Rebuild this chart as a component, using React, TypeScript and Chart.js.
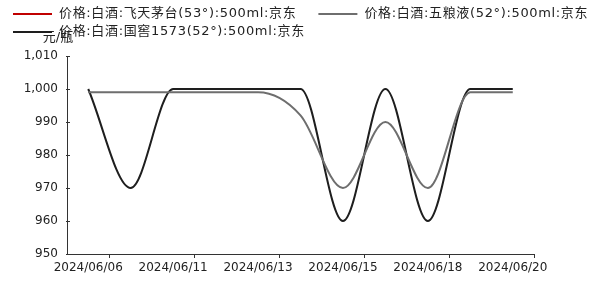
import React, { useEffect, useRef } from "react";
import { Chart, registerables } from "chart.js";

Chart.register(...registerables);

const categories = [
  "2024/06/06", "2024/06/07", "2024/06/11", "2024/06/12", "2024/06/13", "2024/06/14",
  "2024/06/15", "2024/06/17", "2024/06/18", "2024/06/19", "2024/06/20",
];
const feitianMaotai: (number | null)[] = [null, null, null, null, null, null, null, null, null, null, null];
const wuliangye = [999, 999, 999, 999, 999, 992, 970, 990, 970, 999, 999];
const guojiao1573 = [1000, 970, 1000, 1000, 1000, 1000, 960, 1000, 960, 1000, 1000];
const seriesLabels = [
  "价格:白酒:飞天茅台(53°):500ml:京东",
  "价格:白酒:五粮液(52°):500ml:京东",
  "价格:白酒:国窖1573(52°):500ml:京东",
];
const yTicks = [950, 960, 970, 980, 990, 1000, 1010];
const yUnit = "元/瓶";

const colors = ["#c00000", "#6e6e6e", "#1e1e1e"];
const FONT = '"DejaVu Sans", "Noto Sans CJK SC", sans-serif';

const legendPlugin = {
  id: "customLegend",
  afterDraw(chart: any) {
    const ctx = chart.ctx;
    ctx.save();
    ctx.font = `13px ${FONT}`;
    ctx.textBaseline = "middle";
    ctx.fillStyle = "#222";
    // y-axis unit
    ctx.textAlign = "center";
    ctx.fillText(yUnit, 58, 38);
    ctx.textAlign = "left";
    try { (ctx as any).letterSpacing = "0.65px"; } catch (e) {}
    const ds = chart.data.datasets;
    const rows = [[0, 1], [2]];
    const rowY = [14, 32];
    rows.forEach((row, r) => {
      let x = 13;
      row.forEach((i) => {
        const y = rowY[r];
        ctx.strokeStyle = ds[i].borderColor;
        ctx.lineWidth = 2;
        ctx.beginPath();
        ctx.moveTo(x, y);
        ctx.lineTo(x + 39, y);
        ctx.stroke();
        ctx.fillStyle = "#222";
        ctx.fillText(ds[i].label, x + 46, y);
        x += 46 + ctx.measureText(ds[i].label).width + 22;
      });
    });
    try { (ctx as any).letterSpacing = "0px"; } catch (e) {}
    // inner y ticks
    const ys = chart.scales.y;
    const left = chart.chartArea.left;
    ctx.strokeStyle = "#333";
    ctx.lineWidth = 1;
    ys.ticks.forEach((t: any) => {
      const py = Math.round(ys.getPixelForValue(t.value)) + 0.5;
      ctx.beginPath();
      ctx.moveTo(left - 1, py);
      ctx.lineTo(left + 3, py);
      ctx.stroke();
    });
    ctx.restore();
  },
};

export default function App() {
  const ref = useRef<HTMLCanvasElement>(null);
  useEffect(() => {
    if (!ref.current) return;
    const chart = new Chart(ref.current, {
      type: "line",
      data: {
        labels: categories,
        datasets: [
          { label: seriesLabels[0], data: feitianMaotai, borderColor: colors[0], backgroundColor: colors[0], borderWidth: 2, pointRadius: 0, cubicInterpolationMode: "monotone" },
          { label: seriesLabels[1], data: wuliangye, borderColor: colors[1], backgroundColor: colors[1], borderWidth: 2, pointRadius: 0, cubicInterpolationMode: "monotone" },
          { label: seriesLabels[2], data: guojiao1573, borderColor: colors[2], backgroundColor: colors[2], borderWidth: 2, pointRadius: 0, cubicInterpolationMode: "monotone" },
        ],
      },
      options: {
        responsive: false,
        animation: false,
        layout: { padding: { top: 56, right: 66, bottom: 0, left: 0 } },
        plugins: { legend: { display: false }, tooltip: { enabled: false } },
        scales: {
          x: {
            type: "category",
            offset: true,
            afterFit: (s: any) => { s.height = 43; },
            grid: {
              offset: true,
              drawOnChartArea: false,
              drawTicks: true,
              tickLength: 4,
              tickColor: (c: any) => (c.index === undefined || c.index % 2 === 1 ? "#333" : "rgba(0,0,0,0)"),
              color: "rgba(0,0,0,0)",
            },
            border: { display: true, color: "#333", width: 1 },
            ticks: {
              autoSkip: false,
              maxRotation: 0,
              padding: 3,
              color: "#222",
              font: { family: FONT, size: 12 },
              callback: (_v: any, i: number) => (i % 2 === 0 ? categories[i] : ""),
            },
          },
          y: {
            min: 950,
            max: 1010,
            afterFit: (s: any) => { s.width = 67; },
            afterBuildTicks: (s: any) => { s.ticks = yTicks.map((v) => ({ value: v })); },
            grid: { display: false, drawTicks: false },
            border: { display: true, color: "#333", width: 1 },
            ticks: {
              padding: 9,
              color: "#222",
              font: { family: FONT, size: 12 },
              callback: (v: any) => Number(v).toLocaleString("en-US"),
            },
          },
        },
      },
      plugins: [legendPlugin],
    });
    return () => chart.destroy();
  }, []);
  return (
    <div style={{ position: "fixed", left: 0, top: 0, width: 600, height: 297, background: "#fff" }}>
      <canvas ref={ref} width={600} height={297} style={{ display: "block" }} />
    </div>
  );
}
